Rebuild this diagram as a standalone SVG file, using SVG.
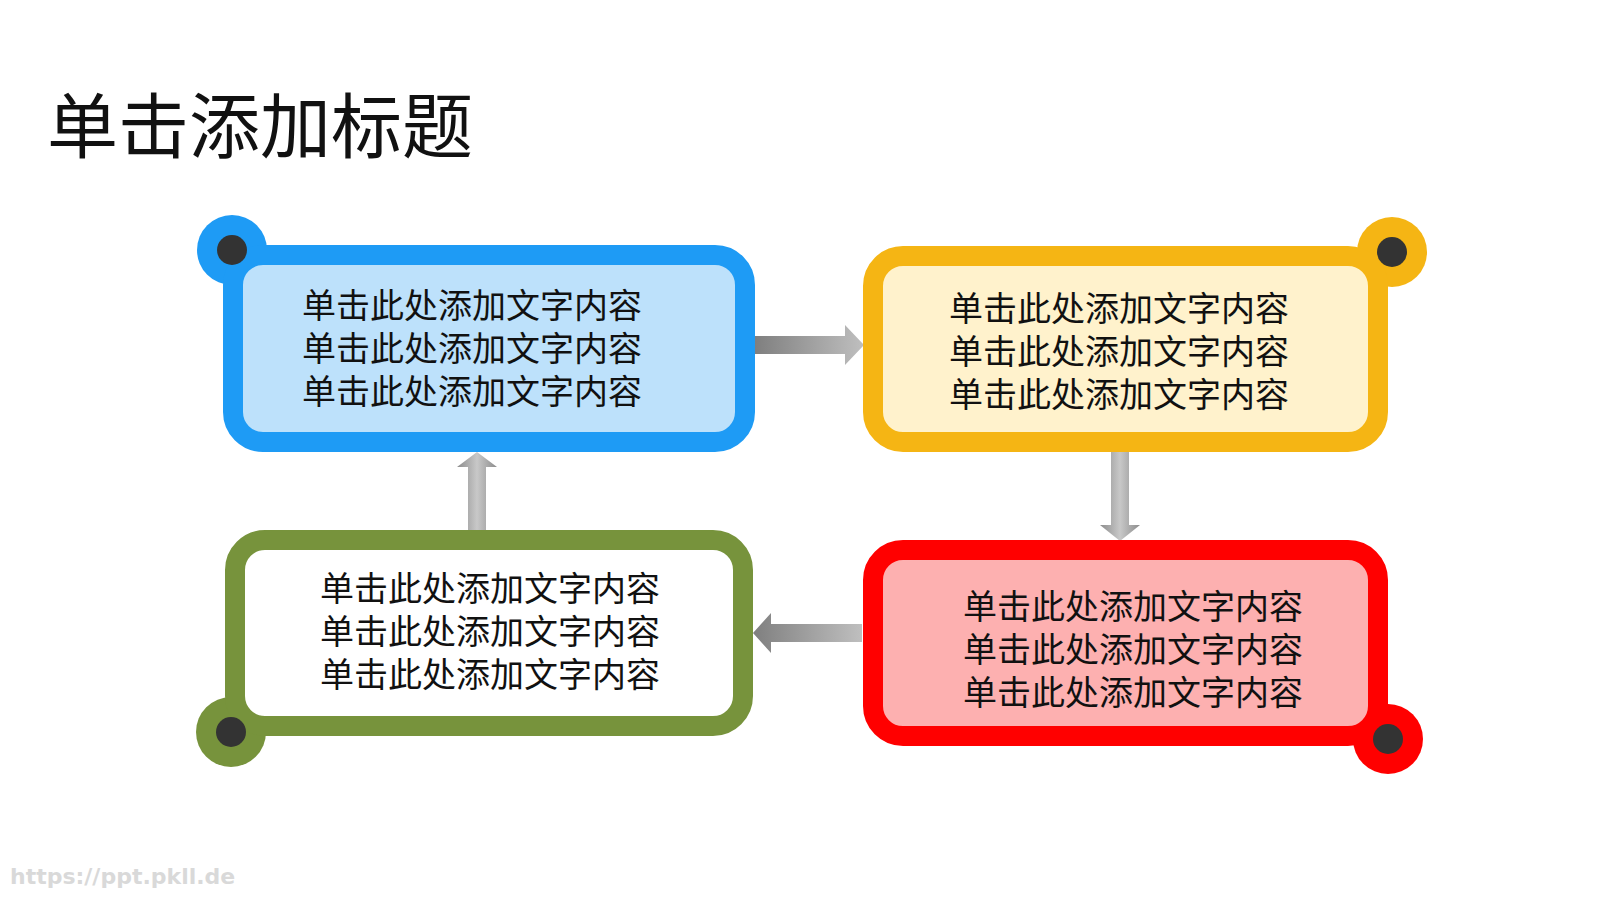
<svg xmlns="http://www.w3.org/2000/svg" width="1600" height="900" viewBox="0 0 1600 900">
<defs>
<style>
text{font-family:"Microsoft YaHei","Noto Sans CJK SC",sans-serif;fill:#111}
.t{font-size:34px;text-anchor:middle}
.box{stroke-width:20}
.dot{fill:#333}
</style>
<linearGradient id="gh" x1="0" y1="0" x2="1" y2="0"><stop offset="0" stop-color="#7f7f7f"/><stop offset="1" stop-color="#bfbfbf"/></linearGradient>
<linearGradient id="gv" x1="0" y1="0" x2="1" y2="0"><stop offset="0" stop-color="#8c8c8c"/><stop offset="0.5" stop-color="#c8c8c8"/><stop offset="1" stop-color="#8c8c8c"/></linearGradient>
</defs>
<rect width="1600" height="900" fill="#fff"/>
<text x="47" y="152" style="font-size:71px">单击添加标题</text>
<g id="connectors">
<path d="M755,336 H845 V325 L864,345 L845,365 V354 H755 Z" fill="url(#gh)"/>
<path d="M1111,452 V525 H1100 L1120,541 L1140,525 H1129 V452 Z" fill="url(#gv)"/>
<path d="M862,624 H771 V613 L753,633 L771,653 V642 H862 Z" fill="url(#gh)"/>
<path d="M468,531 V467 H457 L477,452 L497,467 H486 V531 Z" fill="url(#gv)"/>
</g>
<g id="node1">
<circle cx="232" cy="250" r="35" fill="#1E9BF5"/>
<rect class="box" x="233" y="255" width="512" height="187" rx="30" fill="#BDE1FB" stroke="#1E9BF5"/>
<circle class="dot" cx="232" cy="250" r="15"/>
<text class="t" x="472" y="318">单击此处添加文字内容</text>
<text class="t" x="472" y="361">单击此处添加文字内容</text>
<text class="t" x="472" y="404">单击此处添加文字内容</text>
</g>
<g id="node2">
<circle cx="1392" cy="252" r="35" fill="#F5B514"/>
<rect class="box" x="873" y="256" width="505" height="186" rx="30" fill="#FFF2CC" stroke="#F5B514"/>
<circle class="dot" cx="1392" cy="252" r="15"/>
<text class="t" x="1119" y="321">单击此处添加文字内容</text>
<text class="t" x="1119" y="364">单击此处添加文字内容</text>
<text class="t" x="1119" y="407">单击此处添加文字内容</text>
</g>
<g id="node3">
<circle cx="1388" cy="739" r="35" fill="#FF0000"/>
<rect class="box" x="873" y="550" width="505" height="186" rx="30" fill="#FDB0B0" stroke="#FF0000"/>
<circle class="dot" cx="1388" cy="739" r="15"/>
<text class="t" x="1133" y="619">单击此处添加文字内容</text>
<text class="t" x="1133" y="662">单击此处添加文字内容</text>
<text class="t" x="1133" y="705">单击此处添加文字内容</text>
</g>
<g id="node4">
<circle cx="231" cy="732" r="35" fill="#77933C"/>
<rect class="box" x="235" y="540" width="508" height="186" rx="30" fill="#fff" stroke="#77933C"/>
<circle class="dot" cx="231" cy="732" r="15"/>
<text class="t" x="490" y="601">单击此处添加文字内容</text>
<text class="t" x="490" y="644">单击此处添加文字内容</text>
<text class="t" x="490" y="687">单击此处添加文字内容</text>
</g>
<text x="10" y="884" style="font-family:'DejaVu Sans',sans-serif;font-size:22px;font-weight:bold;fill:#d9d9d9">https://ppt.pkll.de</text>
</svg>
